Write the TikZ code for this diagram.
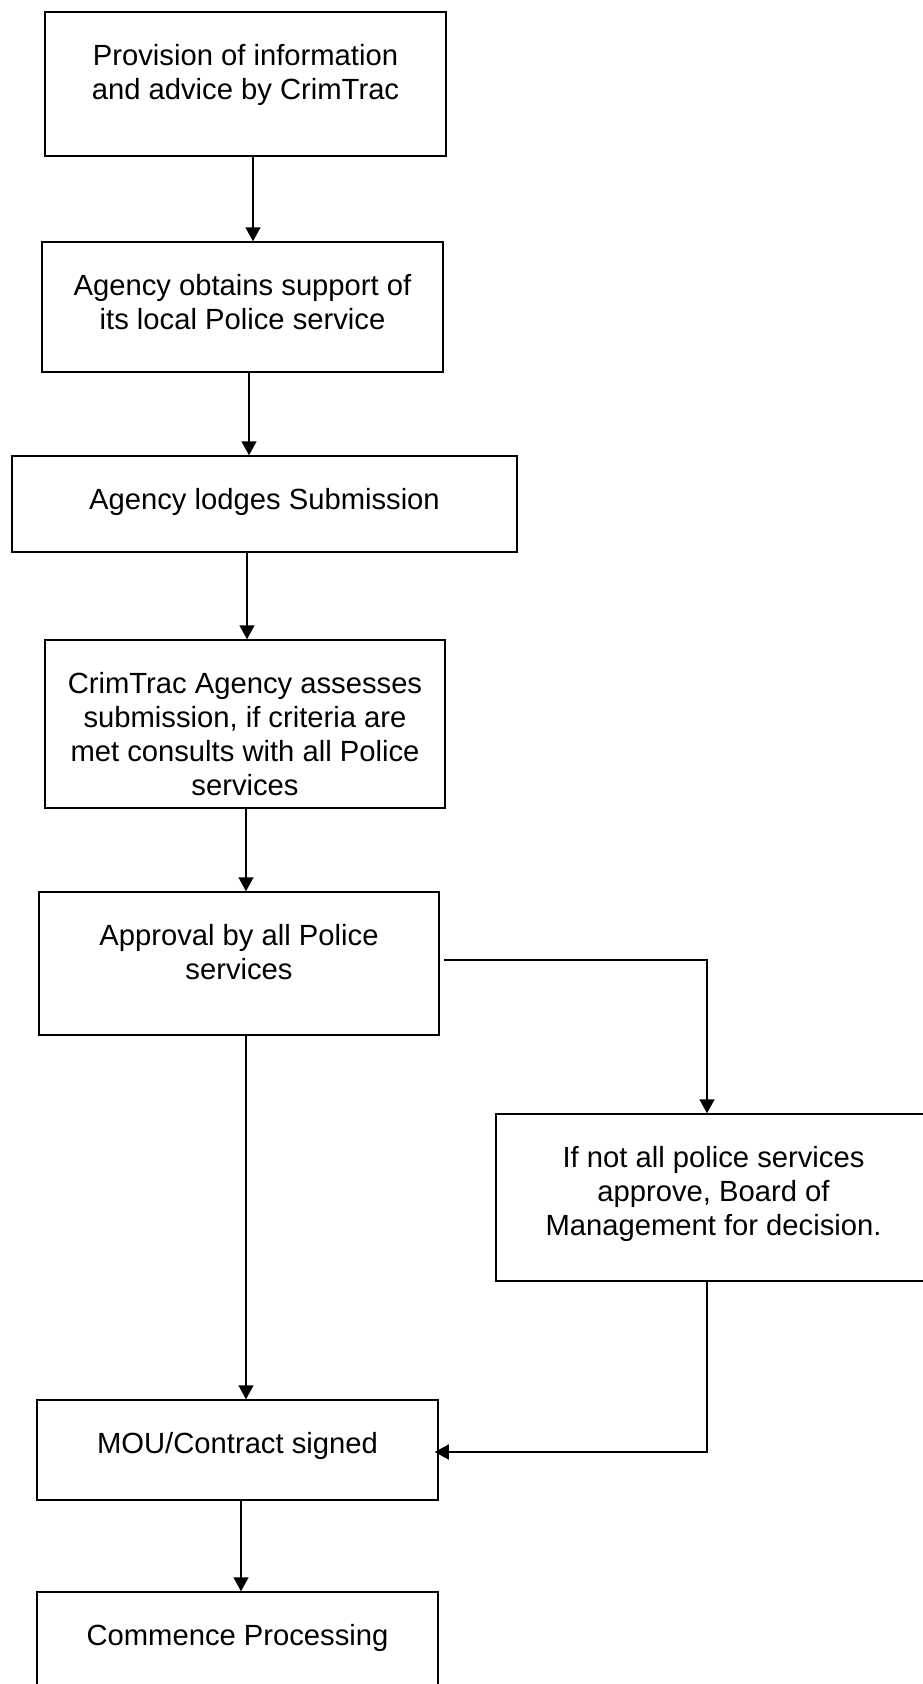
\documentclass[tikz,border=0pt]{standalone}
\usepackage{fontspec}
\setmainfont{Liberation Sans}
\usetikzlibrary{arrows.meta}
\tikzset{
  box/.style={draw=black, line width=1.5pt, rectangle, inner sep=0pt, fill=none},
  txt/.style={inner sep=0pt, anchor=north, align=center, font=\fontsize{29.2}{34}\selectfont},
  arr/.style={draw=black, line width=1.5pt, -{Triangle[width=15pt,length=14pt]}}
}
\newcommand{\fl}{\rule{0pt}{24pt}}
\begin{document}
\begin{tikzpicture}[x=1pt,y=-1pt]
\useasboundingbox (0,0) rectangle (923,1684);
% boxes
\node[box, minimum width=401pt, minimum height=144pt] (b1) at (245.5,84) {};
\node[box, minimum width=401pt, minimum height=130pt] (b2) at (242.5,307) {};
\node[box, minimum width=505pt, minimum height=96pt] (b3) at (264.5,504) {};
\node[box, minimum width=400pt, minimum height=168pt] (b4) at (245,724) {};
\node[box, minimum width=400pt, minimum height=143pt] (b5) at (239,963.5) {};
\node[box, minimum width=435pt, minimum height=167pt] (b6) at (713.5,1197.5) {};
\node[box, minimum width=401pt, minimum height=100pt] (b7) at (237.5,1450) {};
\node[box, minimum width=401pt, minimum height=100pt] (b8) at (237.5,1642) {};
% texts
\node[txt] (t1) at ([yshift=-30pt]b1.north) {\fl Provision of information\\and advice by CrimTrac};
\node[txt] (t2) at ([yshift=-30pt]b2.north) {\fl Agency obtains support of\\its local Police service};
\node[txt] (t3) at ([yshift=-30pt]b3.north) {\fl Agency lodges Submission};
\node[txt] (t4) at ([yshift=-30pt]b4.north) {\fl CrimTrac Agency assesses\\submission, if criteria are\\met consults with all Police\\services};
\node[txt] (t5) at ([yshift=-30pt]b5.north) {\fl Approval by all Police\\services};
\node[txt] (t6) at ([yshift=-30pt]b6.north) {\fl If not all police services\\approve, Board of\\Management for decision.};
\node[txt] (t7) at ([yshift=-30pt]b7.north) {\fl MOU/Contract signed};
\node[txt] (t8) at ([yshift=-30pt]b8.north) {\fl Commence Processing};
% connectors
\draw[arr] ([xshift=7.5pt]b1.south) -- ([xshift=7.5pt]b1.south |- b2.north);
\draw[arr] ([xshift=6.5pt]b2.south) -- ([xshift=6.5pt]b2.south |- b3.north);
\draw[arr] ([xshift=-17.5pt]b3.south) -- ([xshift=-17.5pt]b3.south |- b4.north);
\draw[arr] ([xshift=1pt]b4.south) -- ([xshift=1pt]b4.south |- b5.north);
\draw[arr] ([xshift=7pt]b5.south) -- ([xshift=7pt]b5.south |- b7.north);
\draw[arr] ([shift={(4pt,3.5pt)}]b5.east) -| ([xshift=-6.5pt]b6.north);
\draw[arr] ([xshift=-6.5pt]b6.south) |- ([shift={(-4pt,-2pt)}]b7.east);
\draw[arr] ([xshift=3.5pt]b7.south) -- ([xshift=3.5pt]b7.south |- b8.north);
\end{tikzpicture}
\end{document}
